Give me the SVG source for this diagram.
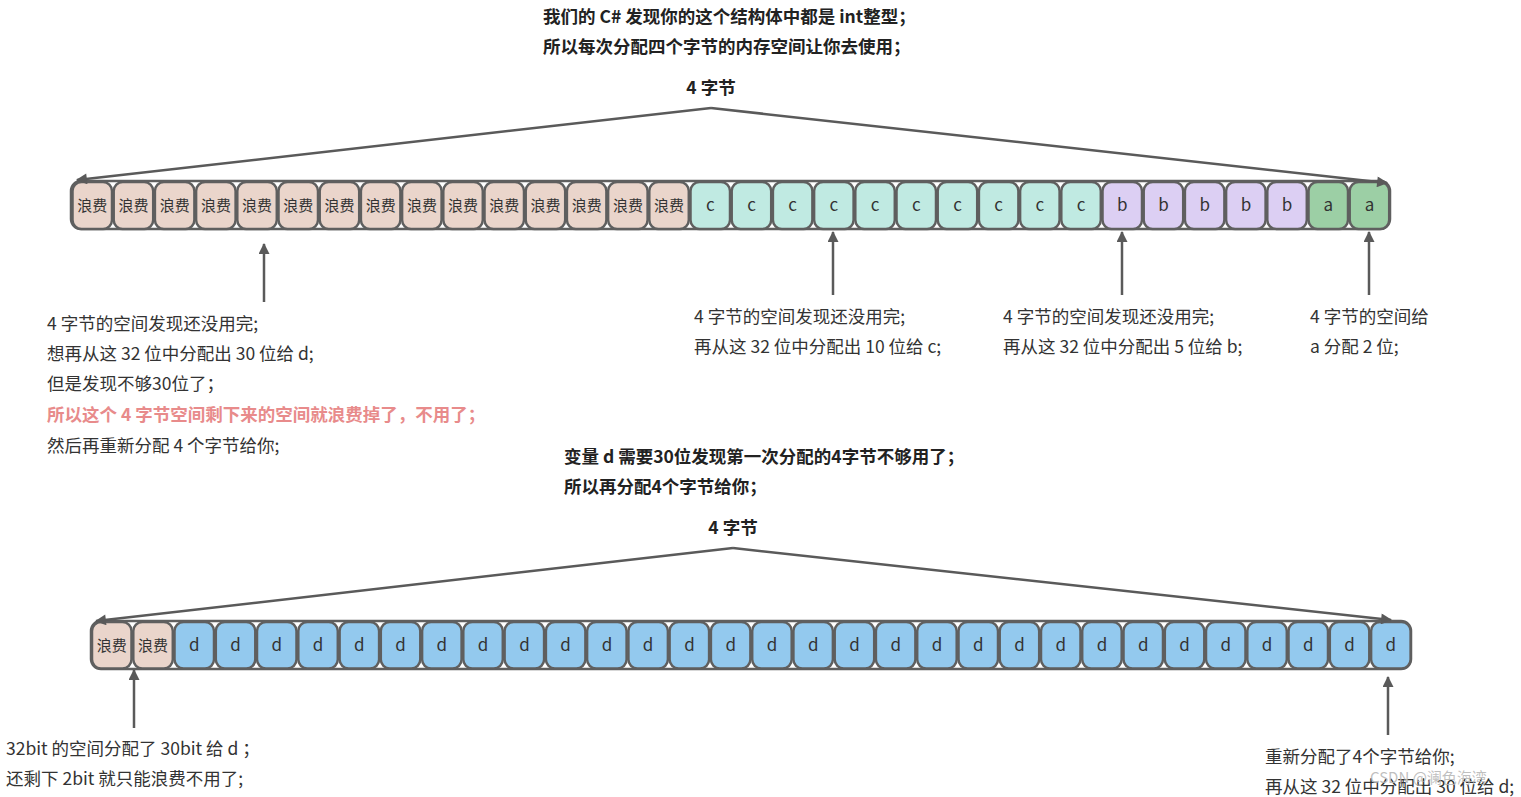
<svg xmlns="http://www.w3.org/2000/svg" width="1521" height="797" viewBox="0 0 1521 797">
<defs>
<marker id="ah" viewBox="0 0 10 10" refX="9" refY="5" markerWidth="12" markerHeight="11" markerUnits="userSpaceOnUse" orient="auto">
<path d="M0,0 L10,5 L0,10 z" fill="#5a5a5a"/>
</marker>
<style>
text{font-family:"Noto Sans CJK SC","Microsoft YaHei",sans-serif;fill:#333}
.t{font-size:17.5px;font-weight:bold;fill:#222}
.n{font-size:17.5px}
.red{font-size:17.5px;font-weight:bold;fill:#e88b8b}
.cell{stroke:#5f5f5f;stroke-width:2.5}
.ct{font-size:15px;text-anchor:middle}
.lt{font-size:17px;text-anchor:middle}
.w{fill:#ead5cb}.c{fill:#c0eae2}.b{fill:#dccff3}.a{fill:#9ccfa5}.d{fill:#93c9ee}
.box{fill:#fff;stroke:#5f5f5f;stroke-width:2.5}
.con{fill:none;stroke:#5a5a5a;stroke-width:2.5;marker-end:url(#ah)}
</style>
</defs>
<rect width="1521" height="797" fill="#fff"/>

<g id="titles">
<text class="t" x="543" y="23">我们的 C# 发现你的这个结构体中都是 int整型；</text>
<text class="t" x="543" y="53">所以每次分配四个字节的内存空间让你去使用；</text>
<text class="t" x="711" y="94" text-anchor="middle">4 字节</text>
<text class="t" x="564" y="463">变量 d 需要30位发现第一次分配的4字节不够用了；</text>
<text class="t" x="564" y="493">所以再分配4个字节给你；</text>
<text class="t" x="733" y="534" text-anchor="middle">4 字节</text>
</g>

<g id="row1">
<rect class="box" x="71" y="181" width="1319" height="48" rx="10"/>
<g id="r1c0"><rect class="cell w" x="72.5" y="182" width="39.5" height="47" rx="9"/><text class="ct" x="92.3" y="211">浪费</text></g>
<g id="r1c1"><rect class="cell w" x="113.7" y="182" width="39.5" height="47" rx="9"/><text class="ct" x="133.5" y="211">浪费</text></g>
<g id="r1c2"><rect class="cell w" x="154.9" y="182" width="39.5" height="47" rx="9"/><text class="ct" x="174.7" y="211">浪费</text></g>
<g id="r1c3"><rect class="cell w" x="196.1" y="182" width="39.5" height="47" rx="9"/><text class="ct" x="215.9" y="211">浪费</text></g>
<g id="r1c4"><rect class="cell w" x="237.3" y="182" width="39.5" height="47" rx="9"/><text class="ct" x="257.1" y="211">浪费</text></g>
<g id="r1c5"><rect class="cell w" x="278.5" y="182" width="39.5" height="47" rx="9"/><text class="ct" x="298.3" y="211">浪费</text></g>
<g id="r1c6"><rect class="cell w" x="319.7" y="182" width="39.5" height="47" rx="9"/><text class="ct" x="339.5" y="211">浪费</text></g>
<g id="r1c7"><rect class="cell w" x="360.9" y="182" width="39.5" height="47" rx="9"/><text class="ct" x="380.7" y="211">浪费</text></g>
<g id="r1c8"><rect class="cell w" x="402.1" y="182" width="39.5" height="47" rx="9"/><text class="ct" x="421.9" y="211">浪费</text></g>
<g id="r1c9"><rect class="cell w" x="443.3" y="182" width="39.5" height="47" rx="9"/><text class="ct" x="463.1" y="211">浪费</text></g>
<g id="r1c10"><rect class="cell w" x="484.5" y="182" width="39.5" height="47" rx="9"/><text class="ct" x="504.3" y="211">浪费</text></g>
<g id="r1c11"><rect class="cell w" x="525.7" y="182" width="39.5" height="47" rx="9"/><text class="ct" x="545.5" y="211">浪费</text></g>
<g id="r1c12"><rect class="cell w" x="566.9" y="182" width="39.5" height="47" rx="9"/><text class="ct" x="586.7" y="211">浪费</text></g>
<g id="r1c13"><rect class="cell w" x="608.1" y="182" width="39.5" height="47" rx="9"/><text class="ct" x="627.9" y="211">浪费</text></g>
<g id="r1c14"><rect class="cell w" x="649.3" y="182" width="39.5" height="47" rx="9"/><text class="ct" x="669.1" y="211">浪费</text></g>
<g id="r1c15"><rect class="cell c" x="690.5" y="182" width="39.5" height="47" rx="9"/><text class="lt" x="710.3" y="211">c</text></g>
<g id="r1c16"><rect class="cell c" x="731.7" y="182" width="39.5" height="47" rx="9"/><text class="lt" x="751.5" y="211">c</text></g>
<g id="r1c17"><rect class="cell c" x="772.9" y="182" width="39.5" height="47" rx="9"/><text class="lt" x="792.7" y="211">c</text></g>
<g id="r1c18"><rect class="cell c" x="814.1" y="182" width="39.5" height="47" rx="9"/><text class="lt" x="833.9" y="211">c</text></g>
<g id="r1c19"><rect class="cell c" x="855.3" y="182" width="39.5" height="47" rx="9"/><text class="lt" x="875.1" y="211">c</text></g>
<g id="r1c20"><rect class="cell c" x="896.5" y="182" width="39.5" height="47" rx="9"/><text class="lt" x="916.3" y="211">c</text></g>
<g id="r1c21"><rect class="cell c" x="937.7" y="182" width="39.5" height="47" rx="9"/><text class="lt" x="957.5" y="211">c</text></g>
<g id="r1c22"><rect class="cell c" x="978.9" y="182" width="39.5" height="47" rx="9"/><text class="lt" x="998.7" y="211">c</text></g>
<g id="r1c23"><rect class="cell c" x="1020.1" y="182" width="39.5" height="47" rx="9"/><text class="lt" x="1039.9" y="211">c</text></g>
<g id="r1c24"><rect class="cell c" x="1061.3" y="182" width="39.5" height="47" rx="9"/><text class="lt" x="1081.1" y="211">c</text></g>
<g id="r1c25"><rect class="cell b" x="1102.5" y="182" width="39.5" height="47" rx="9"/><text class="lt" x="1122.3" y="211">b</text></g>
<g id="r1c26"><rect class="cell b" x="1143.7" y="182" width="39.5" height="47" rx="9"/><text class="lt" x="1163.5" y="211">b</text></g>
<g id="r1c27"><rect class="cell b" x="1184.9" y="182" width="39.5" height="47" rx="9"/><text class="lt" x="1204.7" y="211">b</text></g>
<g id="r1c28"><rect class="cell b" x="1226.1" y="182" width="39.5" height="47" rx="9"/><text class="lt" x="1245.9" y="211">b</text></g>
<g id="r1c29"><rect class="cell b" x="1267.3" y="182" width="39.5" height="47" rx="9"/><text class="lt" x="1287.1" y="211">b</text></g>
<g id="r1c30"><rect class="cell a" x="1308.5" y="182" width="39.5" height="47" rx="9"/><text class="lt" x="1328.3" y="211">a</text></g>
<g id="r1c31"><rect class="cell a" x="1349.7" y="182" width="39.5" height="47" rx="9"/><text class="lt" x="1369.5" y="211">a</text></g>
</g>

<g id="row2">
<rect class="box" x="91" y="621" width="1320" height="48" rx="10"/>
<g id="r2c0"><rect class="cell w" x="92" y="622" width="39.5" height="46.5" rx="9"/><text class="ct" x="111.8" y="651">浪费</text></g>
<g id="r2c1"><rect class="cell w" x="133.3" y="622" width="39.5" height="46.5" rx="9"/><text class="ct" x="153" y="651">浪费</text></g>
<g id="r2c2"><rect class="cell d" x="174.5" y="622" width="39.5" height="46.5" rx="9"/><text class="lt" x="194.3" y="651">d</text></g>
<g id="r2c3"><rect class="cell d" x="215.8" y="622" width="39.5" height="46.5" rx="9"/><text class="lt" x="235.5" y="651">d</text></g>
<g id="r2c4"><rect class="cell d" x="257" y="622" width="39.5" height="46.5" rx="9"/><text class="lt" x="276.8" y="651">d</text></g>
<g id="r2c5"><rect class="cell d" x="298.3" y="622" width="39.5" height="46.5" rx="9"/><text class="lt" x="318.1" y="651">d</text></g>
<g id="r2c6"><rect class="cell d" x="339.6" y="622" width="39.5" height="46.5" rx="9"/><text class="lt" x="359.3" y="651">d</text></g>
<g id="r2c7"><rect class="cell d" x="380.8" y="622" width="39.5" height="46.5" rx="9"/><text class="lt" x="400.6" y="651">d</text></g>
<g id="r2c8"><rect class="cell d" x="422.1" y="622" width="39.5" height="46.5" rx="9"/><text class="lt" x="441.8" y="651">d</text></g>
<g id="r2c9"><rect class="cell d" x="463.3" y="622" width="39.5" height="46.5" rx="9"/><text class="lt" x="483.1" y="651">d</text></g>
<g id="r2c10"><rect class="cell d" x="504.6" y="622" width="39.5" height="46.5" rx="9"/><text class="lt" x="524.4" y="651">d</text></g>
<g id="r2c11"><rect class="cell d" x="545.9" y="622" width="39.5" height="46.5" rx="9"/><text class="lt" x="565.6" y="651">d</text></g>
<g id="r2c12"><rect class="cell d" x="587.1" y="622" width="39.5" height="46.5" rx="9"/><text class="lt" x="606.9" y="651">d</text></g>
<g id="r2c13"><rect class="cell d" x="628.4" y="622" width="39.5" height="46.5" rx="9"/><text class="lt" x="648.1" y="651">d</text></g>
<g id="r2c14"><rect class="cell d" x="669.6" y="622" width="39.5" height="46.5" rx="9"/><text class="lt" x="689.4" y="651">d</text></g>
<g id="r2c15"><rect class="cell d" x="710.9" y="622" width="39.5" height="46.5" rx="9"/><text class="lt" x="730.7" y="651">d</text></g>
<g id="r2c16"><rect class="cell d" x="752.2" y="622" width="39.5" height="46.5" rx="9"/><text class="lt" x="771.9" y="651">d</text></g>
<g id="r2c17"><rect class="cell d" x="793.4" y="622" width="39.5" height="46.5" rx="9"/><text class="lt" x="813.2" y="651">d</text></g>
<g id="r2c18"><rect class="cell d" x="834.7" y="622" width="39.5" height="46.5" rx="9"/><text class="lt" x="854.4" y="651">d</text></g>
<g id="r2c19"><rect class="cell d" x="875.9" y="622" width="39.5" height="46.5" rx="9"/><text class="lt" x="895.7" y="651">d</text></g>
<g id="r2c20"><rect class="cell d" x="917.2" y="622" width="39.5" height="46.5" rx="9"/><text class="lt" x="937" y="651">d</text></g>
<g id="r2c21"><rect class="cell d" x="958.5" y="622" width="39.5" height="46.5" rx="9"/><text class="lt" x="978.2" y="651">d</text></g>
<g id="r2c22"><rect class="cell d" x="999.7" y="622" width="39.5" height="46.5" rx="9"/><text class="lt" x="1019.5" y="651">d</text></g>
<g id="r2c23"><rect class="cell d" x="1041" y="622" width="39.5" height="46.5" rx="9"/><text class="lt" x="1060.7" y="651">d</text></g>
<g id="r2c24"><rect class="cell d" x="1082.2" y="622" width="39.5" height="46.5" rx="9"/><text class="lt" x="1102" y="651">d</text></g>
<g id="r2c25"><rect class="cell d" x="1123.5" y="622" width="39.5" height="46.5" rx="9"/><text class="lt" x="1143.3" y="651">d</text></g>
<g id="r2c26"><rect class="cell d" x="1164.8" y="622" width="39.5" height="46.5" rx="9"/><text class="lt" x="1184.5" y="651">d</text></g>
<g id="r2c27"><rect class="cell d" x="1206" y="622" width="39.5" height="46.5" rx="9"/><text class="lt" x="1225.8" y="651">d</text></g>
<g id="r2c28"><rect class="cell d" x="1247.3" y="622" width="39.5" height="46.5" rx="9"/><text class="lt" x="1267" y="651">d</text></g>
<g id="r2c29"><rect class="cell d" x="1288.5" y="622" width="39.5" height="46.5" rx="9"/><text class="lt" x="1308.3" y="651">d</text></g>
<g id="r2c30"><rect class="cell d" x="1329.8" y="622" width="39.5" height="46.5" rx="9"/><text class="lt" x="1349.6" y="651">d</text></g>
<g id="r2c31"><rect class="cell d" x="1371.1" y="622" width="39.5" height="46.5" rx="9"/><text class="lt" x="1390.8" y="651">d</text></g>
</g>

<g id="connectors">
<line class="con" x1="711" y1="108" x2="77" y2="180"/>
<line class="con" x1="711" y1="108" x2="1387" y2="183"/>
<line class="con" x1="733" y1="548" x2="96" y2="621"/>
<line class="con" x1="733" y1="548" x2="1391" y2="620"/>
<line class="con" x1="264" y1="302" x2="264" y2="244"/>
<line class="con" x1="833" y1="295" x2="833" y2="232"/>
<line class="con" x1="1122" y1="295" x2="1122" y2="232"/>
<line class="con" x1="1369" y1="295" x2="1369" y2="232"/>
<line class="con" x1="134" y1="728" x2="134" y2="670"/>
<line class="con" x1="1388" y1="735" x2="1388" y2="677"/>
</g>

<g id="note-d">
<text class="n" x="47" y="330">4 字节的空间发现还没用完;</text>
<text class="n" x="47" y="360">想再从这 32 位中分配出 30 位给 d;</text>
<text class="n" x="47" y="390">但是发现不够30位了；</text>
<text class="red" x="47" y="421">所以这个 4 字节空间剩下来的空间就浪费掉了，不用了；</text>
<text class="n" x="47" y="452">然后再重新分配 4 个字节给你;</text>
</g>
<g id="note-c">
<text class="n" x="694" y="323">4 字节的空间发现还没用完;</text>
<text class="n" x="694" y="353">再从这 32 位中分配出 10 位给 c;</text>
</g>
<g id="note-b">
<text class="n" x="1003" y="323">4 字节的空间发现还没用完;</text>
<text class="n" x="1003" y="353">再从这 32 位中分配出 5 位给 b;</text>
</g>
<g id="note-a">
<text class="n" x="1310" y="323">4 字节的空间给</text>
<text class="n" x="1310" y="353">a 分配 2 位;</text>
</g>
<g id="note-waste">
<text class="n" x="6" y="755">32bit 的空间分配了 30bit 给 d ；</text>
<text class="n" x="6" y="785">还剩下 2bit 就只能浪费不用了;</text>
</g>
<g id="note-realloc">
<text class="n" x="1265" y="763">重新分配了4个字节给你;</text>
<text class="n" x="1265" y="793">再从这 32 位中分配出 30 位给 d;</text>
</g>
<text x="1370" y="783" font-size="15" style="fill:#b4b4b4;fill-opacity:0.85">CSDN @澜色海湾</text>
</svg>
